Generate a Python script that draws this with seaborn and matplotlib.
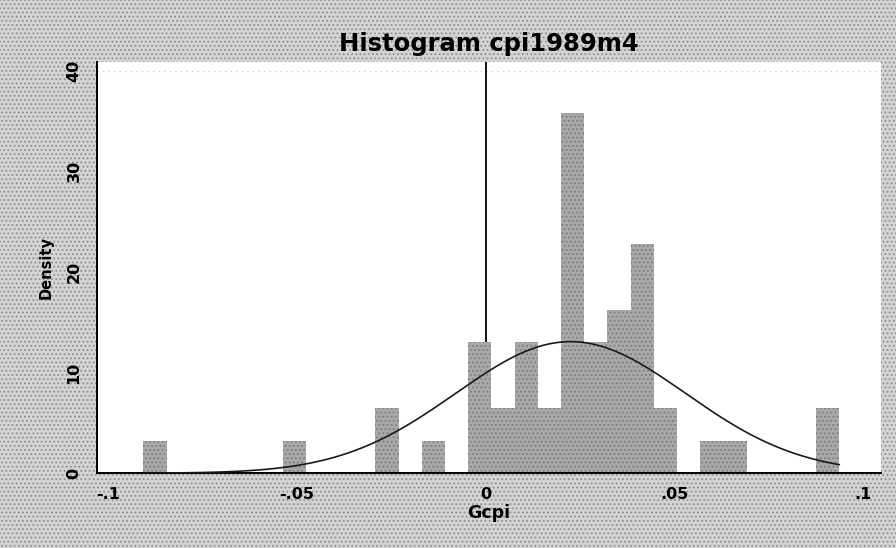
import numpy as np
import pandas as pd
import matplotlib
matplotlib.use("Agg")
import matplotlib.pyplot as plt
import seaborn as sns
from matplotlib.patches import Rectangle

# ---- data ----
bin_start = -0.0907          # lower edge of the first bin
bin_width = 0.006147         # width of one bin
n_bins = 30
bin_counts = [1, 0, 0, 0, 0, 0, 1, 0, 0, 0,
              2, 0, 1, 0, 4, 2, 4, 2, 11, 4,
              5, 7, 2, 0, 1, 1, 0, 0, 0, 2]
norm_mean = 0.0225           # fitted normal curve
norm_sd = 0.0305
x_ticks = [-0.1, -0.05, 0, 0.05, 0.1]
x_tick_labels = ["-.1", "-.05", "0", ".05", ".1"]
y_ticks = [0, 10, 20, 30, 40]
y_tick_labels = ["0", "10", "20", "30", "40"]
title = "Histogram cpi1989m4"
x_label = "Gcpi"
y_label = "Density"

# ---- build tables ----
bin_end = bin_start + bin_width * n_bins
centers = bin_start + bin_width * (np.arange(n_bins) + 0.5)
df = pd.DataFrame({"x": centers, "count": bin_counts})
xs = np.linspace(bin_start, bin_end, 300)
pdf = np.exp(-0.5 * ((xs - norm_mean) / norm_sd) ** 2) / (norm_sd * np.sqrt(2 * np.pi))
curve = pd.DataFrame({"x": xs, "y": pdf})

sns.set_style("white")
plt.rcParams["font.family"] = ["DejaVu Sans"]
plt.rcParams["hatch.linewidth"] = 0.8
plt.rcParams["text.color"] = "black"
plt.rcParams["axes.labelcolor"] = "black"
plt.rcParams["xtick.color"] = "black"
plt.rcParams["ytick.color"] = "black"

W, H = 896, 548
fig = plt.figure(figsize=(W / 100, H / 100), dpi=100)
fig.patch.set_facecolor("#d4d4d4")
bg = Rectangle((0, 0), 1, 1, transform=fig.transFigure, facecolor="none",
               edgecolor="#8e8e8e", hatch="....", linewidth=0, zorder=-10)
fig.add_artist(bg)

left, right, top, bottom = 96.7, 881, 62, 473.3
ax = fig.add_axes([left / W, (H - bottom) / H, (right - left) / W, (bottom - top) / H])
ax.set_facecolor("white")

ax.axhline(40, color="#c4c4c4", lw=0.8, ls=(0, (1, 4)), zorder=0.5)
sns.histplot(data=df, x="x", weights="count", bins=n_bins,
             binrange=(bin_start, bin_end), stat="density",
             color="#a9a9a9", edgecolor="#7c7c7c", linewidth=0, hatch="....",
             alpha=1.0, ax=ax, zorder=2)
ax.axvline(0, color="black", lw=1.3, zorder=1)
sns.lineplot(data=curve, x="x", y="y", color="#1a1a1a", lw=1.2, ax=ax, zorder=3)

ax.set_xlim(-0.10307, 0.10474)
ax.set_ylim(0, 41.06 * (473.3 - 62) / (473.3 - 60))
ax.set_ylim(0, 40.86)

ax.set_xticks(x_ticks)
ax.set_xticklabels(x_tick_labels, fontsize=11.5, fontweight="bold")
ax.set_yticks(y_ticks)
ax.set_yticklabels(y_tick_labels, fontsize=11.5, fontweight="bold", rotation=90, va="center")
ax.tick_params(axis="both", direction="out", length=5, width=1.2, color="black", pad=5)
ax.tick_params(axis="y", pad=6)

for s in ["top", "right"]:
    ax.spines[s].set_visible(False)
for s in ["left", "bottom"]:
    ax.spines[s].set_color("black")
    ax.spines[s].set_linewidth(1.4)

ax.set_xlabel(x_label, fontsize=12.5, fontweight="bold", labelpad=1)
ax.set_ylabel(y_label, fontsize=10.5, fontweight="bold", labelpad=9)
ax.set_title(title, fontsize=17.5, fontweight="bold", pad=8)

fig.savefig("out.png", dpi=100, facecolor=fig.get_facecolor())
